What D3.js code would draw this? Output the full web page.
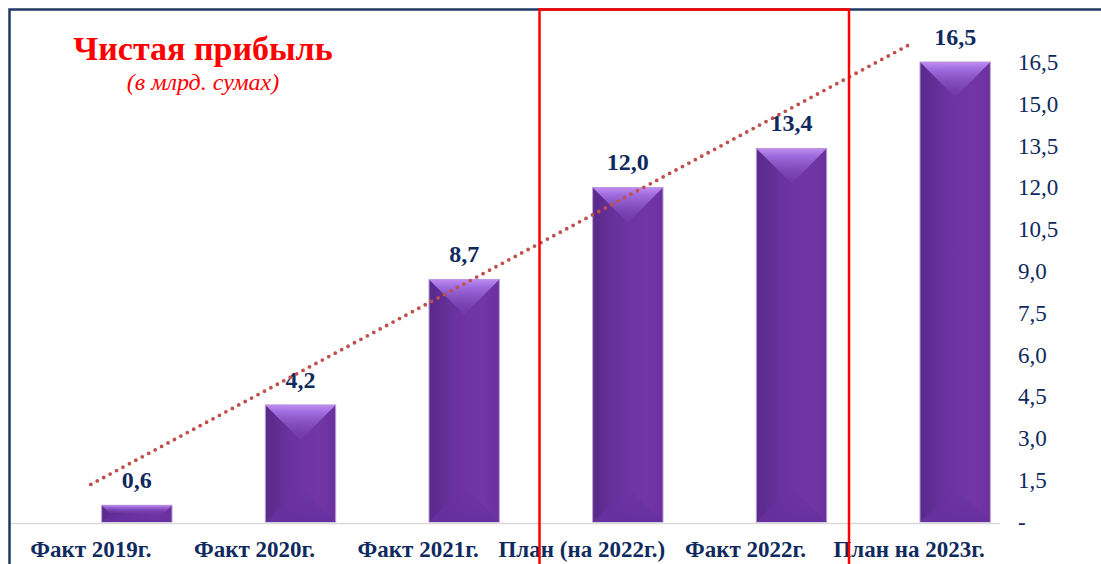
<!DOCTYPE html>
<html>
<head>
<meta charset="utf-8">
<script src="https://d3js.org/d3.v7.min.js"></script>
<title>Чистая прибыль</title>
<style type="text/css">
	body { margin: 0; background: #fff; }
	#chart { width: 1101px; height: 564px; }
</style>
</head>
<body>
<div id="chart"></div>
<script>
// data
var categories = ["Факт 2019г.", "Факт 2020г.", "Факт 2021г.", "План (на 2022г.)", "Факт 2022г.", "План на 2023г."];
var values = [0.6, 4.2, 8.7, 12.0, 13.4, 16.5];
var valueLabels = ["0,6", "4,2", "8,7", "12,0", "13,4", "16,5"];
var tickValues = [0, 1.5, 3, 4.5, 6, 7.5, 9, 10.5, 12, 13.5, 15, 16.5];
var tickLabels = ["-", "1,5", "3,0", "4,5", "6,0", "7,5", "9,0", "10,5", "12,0", "13,5", "15,0", "16,5"];

var W = 1101, H = 564;
var navy = "#0f2a5e";
var serif = "Liberation Serif, Times New Roman, serif";

var svg = d3.select("#chart").append("svg")
	.attr("width", W).attr("height", H);

var x = d3.scaleBand().domain(categories).range([55, 1037]).paddingInner(0.57).paddingOuter(0.285);
var y = d3.scaleLinear().domain([0, 16.5]).range([522, 62]);
var shift = -46; // labels and trendline sit left of the bars in the original

var defs = svg.append("defs");
var g1 = defs.append("linearGradient").attr("id", "barFill").attr("x1", 0).attr("x2", 1).attr("y1", 0).attr("y2", 0);
g1.append("stop").attr("offset", "0%").attr("stop-color", "#58298a");
g1.append("stop").attr("offset", "35%").attr("stop-color", "#6a329e");
g1.append("stop").attr("offset", "75%").attr("stop-color", "#7236a6");
g1.append("stop").attr("offset", "100%").attr("stop-color", "#6b2fa0");
var g2 = defs.append("linearGradient").attr("id", "topBevel").attr("x1", 0).attr("x2", 0).attr("y1", 0).attr("y2", 1);
g2.append("stop").attr("offset", "0%").attr("stop-color", "#c08cf0");
g2.append("stop").attr("offset", "20%").attr("stop-color", "#a06ee0");
g2.append("stop").attr("offset", "100%").attr("stop-color", "#7a40b0").attr("stop-opacity", 0.3);
var g3 = defs.append("linearGradient").attr("id", "botBevel").attr("x1", 0).attr("x2", 0).attr("y1", 0).attr("y2", 1);
g3.append("stop").attr("offset", "0%").attr("stop-color", "#6a30a0").attr("stop-opacity", 0.2);
g3.append("stop").attr("offset", "100%").attr("stop-color", "#6630a0");

// baseline
svg.append("line")
	.attr("x1", 10).attr("x2", 1000)
	.attr("y1", y(0) + 1.5).attr("y2", y(0) + 1.5)
	.attr("stroke", "#d9d9d9").attr("stroke-width", 1.5);

// bars
var bars = svg.selectAll("g.bar").data(values).enter().append("g").attr("class", "bar");
bars.append("rect")
	.attr("x", function(d, i) { return x(categories[i]); })
	.attr("y", function(d) { return y(d); })
	.attr("width", x.bandwidth())
	.attr("height", function(d) { return y(0) - y(d); })
	.attr("fill", "url(#barFill)")
	.attr("stroke", "#b9a6cf").attr("stroke-width", 1);
bars.append("path")
	.attr("fill", "url(#topBevel)")
	.attr("d", function(d, i) {
		var x0 = x(categories[i]), w = x.bandwidth(), t = y(d), h = y(0) - y(d);
		var dd = Math.min(w / 2, h * 0.45);
		return "M" + x0 + "," + t + "L" + (x0 + w) + "," + t + "L" + (x0 + w - dd) + "," + (t + dd) + "L" + (x0 + dd) + "," + (t + dd) + "Z";
	});
bars.append("path")
	.attr("fill", "url(#botBevel)")
	.attr("d", function(d, i) {
		var x0 = x(categories[i]), w = x.bandwidth(), b = y(0), h = y(0) - y(d);
		var dd = Math.min(w / 2, h * 0.45);
		return "M" + x0 + "," + b + "L" + (x0 + w) + "," + b + "L" + (x0 + w - dd) + "," + (b - dd) + "L" + (x0 + dd) + "," + (b - dd) + "Z";
	});

// value labels
svg.selectAll("text.val").data(values).enter().append("text")
	.attr("class", "val")
	.attr("x", function(d, i) { return x(categories[i]) + x.bandwidth() / 2; })
	.attr("y", function(d) { return y(d) - 17; })
	.attr("text-anchor", "middle")
	.attr("font-family", serif)
	.attr("font-weight", "bold").attr("font-size", 24)
	.attr("fill", navy)
	.text(function(d, i) { return valueLabels[i]; });

// right axis
var axis = d3.axisRight(y).tickValues(tickValues).tickSize(0).tickPadding(0)
	.tickFormat(function(d, i) { return tickLabels[i]; });
var ag = svg.append("g").attr("transform", "translate(1018,0)").call(axis);
ag.select(".domain").remove();
ag.selectAll("text")
	.attr("font-family", serif)
	.attr("font-size", 23).attr("fill", navy).attr("dy", "0.32em");

// category labels
svg.selectAll("text.cat").data(categories).enter().append("text")
	.attr("class", "cat")
	.attr("x", function(d) { return x(d) + x.bandwidth() / 2 + shift; })
	.attr("y", 557)
	.attr("text-anchor", "middle")
	.attr("font-family", serif)
	.attr("font-weight", "bold").attr("font-size", 23)
	.attr("fill", navy)
	.text(function(d) { return d; });

// linear trend
var n = values.length, mx = (n + 1) / 2, my = d3.mean(values);
var sxy = d3.sum(values, function(v, i) { return (i + 1 - mx) * (v - my); });
var sxx = d3.sum(values, function(v, i) { return (i + 1 - mx) * (i + 1 - mx); });
var slope = sxy / sxx, icpt = my - slope * mx;
svg.append("line")
	.attr("x1", x(categories[0]) + x.bandwidth() / 2 + shift)
	.attr("y1", y(icpt + slope * 1))
	.attr("x2", x(categories[n - 1]) + x.bandwidth() / 2 + shift)
	.attr("y2", y(icpt + slope * n))
	.attr("stroke", "#c0504d").attr("stroke-width", 3.8)
	.attr("stroke-linecap", "round").attr("stroke-dasharray", "0 7.3");

// title
svg.append("text").attr("x", 203).attr("y", 60).attr("text-anchor", "middle")
	.attr("font-family", serif)
	.attr("font-weight", "bold").attr("font-size", 34).attr("fill", "#ff0000")
	.text("Чистая прибыль");
svg.append("text").attr("x", 203).attr("y", 90).attr("text-anchor", "middle")
	.attr("font-family", serif)
	.attr("font-style", "italic").attr("font-size", 24).attr("fill", "#ff0000")
	.text("(в млрд. сумах)");

// frame
svg.append("path").attr("d", "M9.5,565L9.5,9.5L1102,9.5")
	.attr("fill", "none").attr("stroke", "#1f3864").attr("stroke-width", 2.5);
svg.append("rect").attr("x", 539.5).attr("y", 9.5).attr("width", 309.5).attr("height", 560)
	.attr("fill", "none").attr("stroke", "#ff0000").attr("stroke-width", 2.5);
</script>
</body>
</html>
